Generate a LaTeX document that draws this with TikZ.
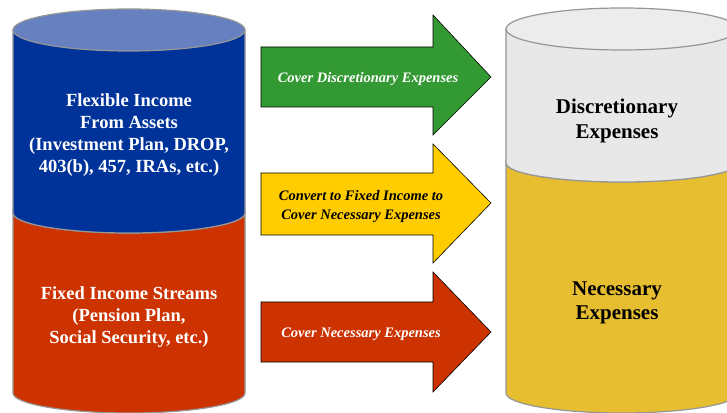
\documentclass[tikz,border=0pt]{standalone}
\usepackage{fontspec}
\setmainfont{Liberation Serif}
\definecolor{cblue}{RGB}{0,51,153}
\definecolor{cbluetop}{RGB}{102,128,192}
\definecolor{cred}{RGB}{204,51,0}
\definecolor{cgraybody}{RGB}{232,232,232}
\definecolor{cgraytop}{RGB}{236,236,236}
\definecolor{cyel}{RGB}{230,190,48}
\definecolor{cgreen}{RGB}{51,153,51}
\definecolor{cyelarrow}{RGB}{255,204,0}
\definecolor{cedge}{RGB}{150,150,150}
\begin{document}
\begin{tikzpicture}[x=1pt,y=1pt,
  cyl/.style={draw=cedge,line width=1.2pt},
  arr/.style={draw=black,line width=0.6pt},
  cyltext/.style={align=center,font=\bfseries\fontsize{18.5}{22}\selectfont},
  bigtext/.style={align=center,font=\bfseries\fontsize{21}{24.5}\selectfont},
  arrtext/.style={align=center,font=\bfseries\itshape\fontsize{14.5}{19}\selectfont}]
\clip (0,0) rectangle (727,412);
\fill[white] (0,0) rectangle (727,412);
% left cylinder
\path[cyl,fill=cred] (13,199) arc[start angle=180,end angle=360,x radius=116,y radius=20]
  -- (245,19) arc[start angle=0,end angle=-180,x radius=116,y radius=20] -- cycle;
\path[cyl,fill=cblue] (13,382) -- (13,199) arc[start angle=180,end angle=360,x radius=116,y radius=20]
  -- (245,382) -- cycle;
\path[cyl,fill=cbluetop] (129,382) ellipse[x radius=116,y radius=21];
% right cylinder
\path[cyl,fill=cyel] (506,249) arc[start angle=180,end angle=360,x radius=116,y radius=19]
  -- (738,19) arc[start angle=0,end angle=-180,x radius=116,y radius=20] -- cycle;
\path[cyl,fill=cgraybody] (506,383) -- (506,249) arc[start angle=180,end angle=360,x radius=116,y radius=19]
  -- (738,383) -- cycle;
\path[cyl,fill=cgraytop] (622,383) ellipse[x radius=116,y radius=21];
% arrows
\path[arr,fill=cgreen] (261,365) -- (433,365) -- (433,397) -- (491,335) -- (433,277) -- (433,305) -- (261,305) -- cycle;
\path[arr,fill=cyelarrow] (261,239) -- (433,239) -- (433,268) -- (491,209) -- (433,149) -- (433,177) -- (261,177) -- cycle;
\path[arr,fill=cred] (261,110) -- (433,110) -- (433,140) -- (491,80) -- (433,20) -- (433,50) -- (261,50) -- cycle;
% texts
\node[cyltext,text=white] (flex) at (129,277) {Flexible Income\\From Assets\\(Investment Plan, DROP,\\403(b), 457, IRAs, etc.)};
\node[cyltext,text=white] (fixed) at (129,94.5) {Fixed Income Streams\\(Pension Plan,\\Social Security, etc.)};
\node[bigtext,text=black] (disc) at (617,291) {Discretionary\\Expenses};
\node[bigtext,text=black] (nec) at (617,109) {Necessary\\Expenses};
\node[arrtext,text=white] (a1) at (368,333) {Cover Discretionary Expenses};
\node[arrtext,text=black] (a2) at (361,205) {Convert to Fixed Income to\\Cover Necessary Expenses};
\node[arrtext,text=white] (a3) at (361,77.5) {Cover Necessary Expenses};
\end{tikzpicture}
\end{document}
